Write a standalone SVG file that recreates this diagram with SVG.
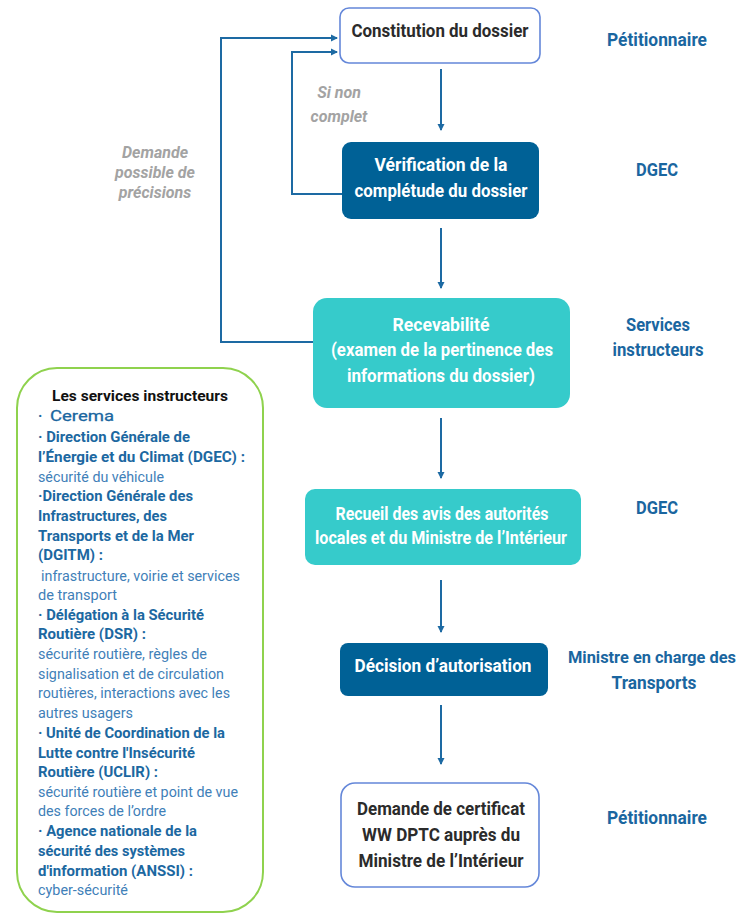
<svg xmlns="http://www.w3.org/2000/svg" width="746" height="914" viewBox="0 0 746 914">
<defs>
<style>
text{font-family:Roboto,"Liberation Sans",sans-serif;}
.n{font-size:18px;font-weight:bold;text-anchor:middle;}
.w{fill:#ffffff;}
.k{fill:#2b2b2b;}
.r{font-size:18px;font-weight:bold;fill:#1a66a0;text-anchor:middle;}
.g{font-size:16px;font-weight:bold;font-style:italic;fill:#a3a3a3;text-anchor:middle;}
.b{font-size:14.5px;font-weight:bold;fill:#1c68a1;}
.t{font-size:14.5px;fill:#3f80b8;}
.h{font-size:15.5px;font-weight:bold;fill:#111111;text-anchor:middle;}
.wb{fill:#ffffff;stroke:#6487d9;stroke-width:1.6;}
.db{fill:#006196;}
.tb{fill:#36cbcb;}
.c{fill:none;stroke:#1d6aa3;stroke-width:2;}
</style>
<marker id="ah" markerWidth="8" markerHeight="8" refX="6" refY="4" orient="auto" markerUnits="userSpaceOnUse">
<path d="M0,0.5 L7,4 L0,7.5 z" fill="#1d6aa3"/>
</marker>
</defs>
<rect width="746" height="914" fill="#ffffff"/>

<g id="connectors">
<line class="c" x1="441" y1="69" x2="441" y2="130" marker-end="url(#ah)"/>
<line class="c" x1="441" y1="228" x2="441" y2="288" marker-end="url(#ah)"/>
<line class="c" x1="441" y1="418" x2="441" y2="478" marker-end="url(#ah)"/>
<line class="c" x1="441" y1="580" x2="441" y2="632" marker-end="url(#ah)"/>
<line class="c" x1="441" y1="705" x2="441" y2="764" marker-end="url(#ah)"/>
<polyline class="c" points="313,342 221,342 221,38 337,38" marker-end="url(#ah)"/>
<polyline class="c" points="342,194 292,194 292,52 337,52" marker-end="url(#ah)"/>
</g>

<g id="label-si-non-complet">
<text class="g" x="339" y="98">Si non</text>
<text class="g" x="339" y="122">complet</text>
</g>
<g id="label-demande-precisions">
<text class="g" x="155" y="158">Demande</text>
<text class="g" x="155" y="178">possible de</text>
<text class="g" x="155" y="198">précisions</text>
</g>

<g id="node-constitution">
<rect class="wb" x="340" y="8" width="200" height="55" rx="9"/>
<text class="n k" x="440" y="37" textLength="177" lengthAdjust="spacingAndGlyphs">Constitution du dossier</text>
</g>

<g id="node-verification">
<rect class="db" x="342" y="142" width="197" height="77" rx="9"/>
<text class="n w" x="441" y="171" textLength="133" lengthAdjust="spacingAndGlyphs">Vérification de la</text>
<text class="n w" x="441" y="197" textLength="173" lengthAdjust="spacingAndGlyphs">complétude du dossier</text>
</g>

<g id="node-recevabilite">
<rect class="tb" x="313" y="298" width="257" height="110" rx="14"/>
<text class="n w" x="441" y="331" textLength="97" lengthAdjust="spacingAndGlyphs">Recevabilité</text>
<text class="n w" x="442" y="356" textLength="222" lengthAdjust="spacingAndGlyphs">(examen de la pertinence des</text>
<text class="n w" x="441" y="382" textLength="188" lengthAdjust="spacingAndGlyphs">informations du dossier)</text>
</g>

<g id="node-recueil">
<rect class="tb" x="305" y="489" width="276" height="76" rx="10"/>
<text class="n w" x="442" y="520" textLength="213" lengthAdjust="spacingAndGlyphs">Recueil des avis des autorités</text>
<text class="n w" x="441" y="544" textLength="252" lengthAdjust="spacingAndGlyphs">locales et du Ministre de l’Intérieur</text>
</g>

<g id="node-decision">
<rect class="db" x="340" y="643" width="208" height="53" rx="8"/>
<text class="n w" x="443" y="672" textLength="177" lengthAdjust="spacingAndGlyphs">Décision d’autorisation</text>
</g>

<g id="node-demande-certificat">
<rect class="wb" x="341" y="783" width="198" height="104" rx="14"/>
<text class="n k" x="441" y="815" textLength="168" lengthAdjust="spacingAndGlyphs">Demande de certificat</text>
<text class="n k" x="441" y="841" textLength="158" lengthAdjust="spacingAndGlyphs">WW DPTC auprès du</text>
<text class="n k" x="441" y="867" textLength="165" lengthAdjust="spacingAndGlyphs">Ministre de l’Intérieur</text>
</g>

<g id="actors">
<text class="r" x="657" y="46" textLength="100" lengthAdjust="spacingAndGlyphs">Pétitionnaire</text>
<text class="r" x="657" y="176" textLength="42" lengthAdjust="spacingAndGlyphs">DGEC</text>
<text class="r" x="658" y="331" textLength="64" lengthAdjust="spacingAndGlyphs">Services</text>
<text class="r" x="658" y="356" textLength="91" lengthAdjust="spacingAndGlyphs">instructeurs</text>
<text class="r" x="657" y="514" textLength="42" lengthAdjust="spacingAndGlyphs">DGEC</text>
<text class="r" x="652" y="663" style="font-size:16px" textLength="168" lengthAdjust="spacingAndGlyphs">Ministre en charge des</text>
<text class="r" x="654" y="689" textLength="85" lengthAdjust="spacingAndGlyphs">Transports</text>
<text class="r" x="657" y="824" textLength="100" lengthAdjust="spacingAndGlyphs">Pétitionnaire</text>
</g>

<g id="node-services-instructeurs">
<rect x="17" y="368" width="246" height="544" rx="40" fill="#ffffff" stroke="#8fd24e" stroke-width="2"/>
<text class="h" x="140" y="401" textLength="176" lengthAdjust="spacingAndGlyphs">Les services instructeurs</text>
<text class="b" x="38" y="421">·</text>
<text x="50" y="421" font-family="'Liberation Sans',sans-serif" font-size="15.5" fill="#1a66a0" stroke="#1a66a0" stroke-width="0.3" textLength="64" lengthAdjust="spacingAndGlyphs">Cerema</text>
<text class="b" x="38" y="442" textLength="152" lengthAdjust="spacingAndGlyphs">· Direction Générale de</text>
<text class="b" x="38" y="462" textLength="207" lengthAdjust="spacingAndGlyphs">l’Énergie et du Climat (DGEC) :</text>
<text class="t" x="38" y="482" textLength="126" lengthAdjust="spacingAndGlyphs">sécurité du véhicule</text>
<text class="b" x="38" y="501" textLength="155" lengthAdjust="spacingAndGlyphs">·Direction Générale des</text>
<text class="b" x="38" y="521" textLength="129" lengthAdjust="spacingAndGlyphs">Infrastructures, des</text>
<text class="b" x="38" y="541" textLength="156" lengthAdjust="spacingAndGlyphs">Transports et de la Mer</text>
<text class="b" x="38" y="560" textLength="65" lengthAdjust="spacingAndGlyphs">(DGITM) :</text>
<text class="t" x="41" y="581" textLength="199" lengthAdjust="spacingAndGlyphs">infrastructure, voirie et services</text>
<text class="t" x="38" y="600" textLength="79" lengthAdjust="spacingAndGlyphs">de transport</text>
<text class="b" x="38" y="620" textLength="166" lengthAdjust="spacingAndGlyphs">· Délégation à la Sécurité</text>
<text class="b" x="38" y="639" textLength="108" lengthAdjust="spacingAndGlyphs">Routière (DSR) :</text>
<text class="t" x="38" y="659" textLength="169" lengthAdjust="spacingAndGlyphs">sécurité routière, règles de</text>
<text class="t" x="38" y="679" textLength="186" lengthAdjust="spacingAndGlyphs">signalisation et de circulation</text>
<text class="t" x="38" y="698" textLength="192" lengthAdjust="spacingAndGlyphs">routières, interactions avec les</text>
<text class="t" x="38" y="718" textLength="95" lengthAdjust="spacingAndGlyphs">autres usagers</text>
<text class="b" x="38" y="738" textLength="187" lengthAdjust="spacingAndGlyphs">· Unité de Coordination de la</text>
<text class="b" x="38" y="758" textLength="157" lengthAdjust="spacingAndGlyphs">Lutte contre l'Insécurité</text>
<text class="b" x="38" y="777" textLength="120" lengthAdjust="spacingAndGlyphs">Routière (UCLIR) :</text>
<text class="t" x="38" y="797" textLength="200" lengthAdjust="spacingAndGlyphs">sécurité routière et point de vue</text>
<text class="t" x="38" y="816" textLength="128" lengthAdjust="spacingAndGlyphs">des forces de l’ordre</text>
<text class="b" x="38" y="836" textLength="159" lengthAdjust="spacingAndGlyphs">· Agence nationale de la</text>
<text class="b" x="38" y="856" textLength="147" lengthAdjust="spacingAndGlyphs">sécurité des systèmes</text>
<text class="b" x="38" y="876" textLength="155" lengthAdjust="spacingAndGlyphs">d'information (ANSSI) :</text>
<text class="t" x="38" y="895" textLength="90" lengthAdjust="spacingAndGlyphs">cyber-sécurité</text>
</g>
</svg>
